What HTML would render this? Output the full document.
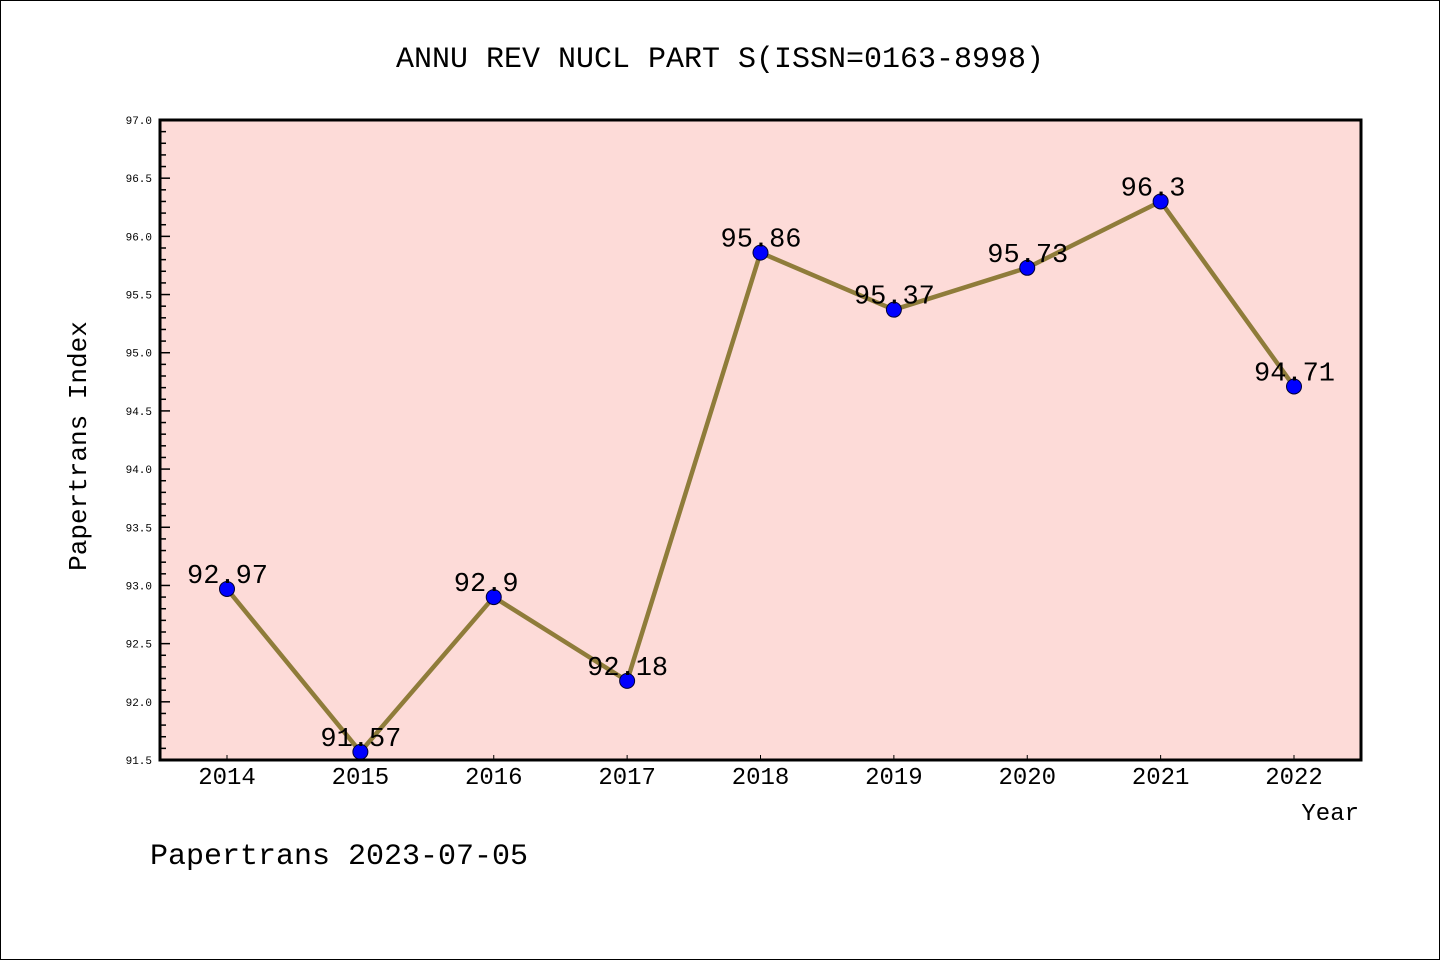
<!DOCTYPE html>
<html><head><meta charset="utf-8"><style>
body{margin:0;background:#fff}
svg{display:block}
text{font-family:"Liberation Mono","WenQuanYi Zen Hei",monospace;fill:#000}
</style></head><body>
<svg width="1440" height="960" viewBox="0 0 1440 960">
<rect x="0.5" y="0.5" width="1439" height="959" fill="#fff" stroke="#000"/>
<text x="720" y="67" font-size="30" text-anchor="middle">ANNU REV NUCL PART S(ISSN=0163-8998)</text>
<rect x="160" y="120" width="1201" height="640" fill="#fddbd8"/>
<g id="axes"></g>
<g id="series"></g>
<rect x="160" y="120" width="1201" height="640" fill="none" stroke="#000" stroke-width="3"/>
<text x="86" y="446" font-size="26" text-anchor="middle" transform="rotate(-90 86 446)">Papertrans Index</text>
<text x="1359" y="820" font-size="24" text-anchor="end">Year</text>
<text x="150" y="864" font-size="30">Papertrans 2023-07-05</text>
</svg>
<script>
const years = ["2014","2015","2016","2017","2018","2019","2020","2021","2022"];
const values = [92.97,91.57,92.9,92.18,95.86,95.37,95.73,96.3,94.71];
const valueLabels = ["92.97","91.57","92.9","92.18","95.86","95.37","95.73","96.3","94.71"];
const yTicks = ["91.5","92.0","92.5","93.0","93.5","94.0","94.5","95.0","95.5","96.0","96.5","97.0"];
const ns="http://www.w3.org/2000/svg";
const yMin=91.5,yMax=97.0,plotTop=120,plotBot=760;
const yS=v=>plotBot-(v-yMin)/(yMax-yMin)*(plotBot-plotTop);
const xS=i=>227+i*(1294-227)/(years.length-1);
function mk(t,a,p){const e=document.createElementNS(ns,t);for(const k in a)e.setAttribute(k,a[k]);p.appendChild(e);return e;}
const ax=document.getElementById('axes'),se=document.getElementById('series');
for(let k=0;k<=55;k++){const v=yMin+k*0.1;const y=yS(v);const major=k%5==0;
 const l=mk('line',{x1:160,x2:major?170:166,y1:y,y2:y,stroke:'#000','stroke-width':1.5},ax);
 
 }
yTicks.forEach(t=>{const e=mk('text',{x:152,y:yS(+t)+4,'font-size':11,'text-anchor':'end'},ax);e.textContent=t;
 
 });
years.forEach((yr,i)=>{const x=xS(i);
 const l=mk('line',{x1:x,x2:x,y1:760,y2:755,stroke:'#000','stroke-width':1},ax);
 
 
 const t=mk('text',{x:x,y:784,'font-size':24,'text-anchor':'middle'},ax);t.textContent=yr;
 
 });
const pl=mk('polyline',{points:values.map((v,i)=>xS(i)+','+yS(v)).join(' '),fill:'none',stroke:'#8f7c3a','stroke-width':4.5,'stroke-linejoin':'round'},se);


values.forEach((v,i)=>{const c=mk('circle',{cx:xS(i),cy:yS(v),r:7.5,fill:'#0000ff',stroke:'#000033','stroke-width':1},se);
 
 
 const t=mk('text',{x:xS(i)-40,y:yS(v)-6,'font-size':27},se);t.textContent=valueLabels[i];
 
 });
</script>
</body></html>
